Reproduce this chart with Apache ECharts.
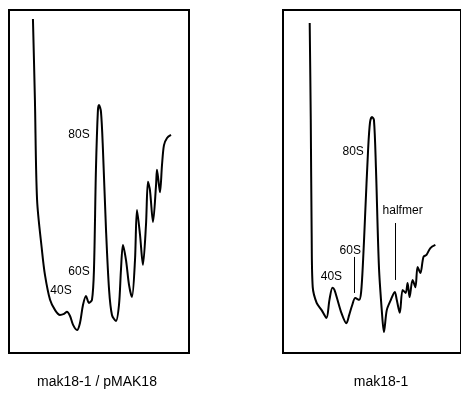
<!DOCTYPE html>
<html>
<head>
<meta charset="utf-8">
<script src="https://cdn.jsdelivr.net/npm/echarts@6/dist/echarts.min.js"></script>
<style>html,body{margin:0;padding:0;background:#fff}#c{width:461px;height:396px}</style>
</head>
<body>
<div id="c"></div>
<script>
// Panel 1: mak18-1 / pMAK18  (fraction position, absorbance)
var leftX = [13.3,14.4,15.6,18.3,20.0,22.8,25.6,28.3,30.6,32.2,33.9,35.6,37.8,39.4,41.1,42.8,44.4,46.1,47.2,48.3,49.4,50.0,51.1,52.2,53.9,55.6,57.2,59.4,61.1,62.2,63.3,65.0,66.7,68.3,70.0,71.1,72.8,74.4,76.1,77.2,78.3,80.0,81.7,82.2,83.3,83.9,85.0,86.1,87.8,90.0];
var leftY = [97.4,73.8,44.6,30.0,22.7,15.5,12.5,11.1,11.4,12.0,10.8,8.2,6.7,8.7,14.0,16.6,14.6,15.5,24.2,53.4,70.8,72.3,70.3,59.2,35.9,18.4,11.1,9.3,14.0,24.2,31.5,27.1,19.8,16.3,27.1,41.7,34.4,25.7,37.3,49.9,47.5,38.2,49.0,53.4,49.0,46.9,54.8,60.6,62.7,63.6];
// Panel 2: mak18-1
var rightX = [15.0,15.6,16.1,16.7,18.9,21.7,24.4,26.1,27.8,28.9,30.6,32.8,35.6,37.2,38.9,40.6,42.8,43.9,45.0,46.1,47.8,48.9,50.0,51.1,52.2,53.9,55.6,56.7,58.3,60.6,62.8,63.9,65.6,67.2,68.9,70.0,71.1,72.8,74.4,75.6,77.2,78.9,80.6,82.8,85.6];
var rightY = [96.2,67.9,35.0,19.2,14.6,12.5,10.2,15.5,19.0,18.4,15.5,11.7,8.7,11.1,14.0,16.0,15.5,17.8,27.1,39.7,59.2,67.3,68.8,67.9,54.2,25.1,11.7,6.1,12.5,15.5,17.8,15.5,11.7,18.4,17.5,20.4,16.3,21.3,19.2,25.1,23.3,28.0,28.6,30.6,31.5];
// Peak labels [name, x, y]
var leftLabels = [['80S',38.9,63.6],['60S',38.9,23.6],['40S',28.9,18.1]];
var rightLabels = [['80S',39.4,58.6],['halfmer',67.2,41.4],['60S',37.8,29.7],['40S',27.2,22.2]];
// Marker ticks [x, yFrom, yTo]
var rightTicks = [[40.0,17.5,28.0],[62.8,21.3,37.9]];
var panelTitles = ['mak18-1 / pMAK18','mak18-1'];

function zip(xs, ys){ return xs.map(function(x,i){ return [x, ys[i]]; }); }
var font = 'Liberation Sans, Arial, sans-serif';
function mp(list){
  return {
    symbol:'circle', symbolSize:1, silent:true, animation:false,
    itemStyle:{color:'rgba(0,0,0,0)'},
    label:{show:true, position:'inside', formatter:'{b}', color:'#000', fontFamily:font, fontSize:12},
    data: list.map(function(l){ return {name:l[0], coord:[l[1], l[2]]}; })
  };
}
var chart = echarts.init(document.getElementById('c'), null, {renderer:'canvas'});
chart.setOption({
  animation:false,
  title:[
    {text:panelTitles[0], left:92, top:370, textAlign:'center', textStyle:{fontFamily:font, fontSize:14, fontWeight:'normal', color:'#000'}},
    {text:panelTitles[1], left:376, top:370, textAlign:'center', textStyle:{fontFamily:font, fontSize:14, fontWeight:'normal', color:'#000'}}
  ],
  grid:[
    {left:9, top:10, width:180, height:343, show:true, borderColor:'#000', borderWidth:2, backgroundColor:'transparent'},
    {left:283, top:10, width:180, height:343, show:true, borderColor:'#000', borderWidth:2, backgroundColor:'transparent'}
  ],
  xAxis:[
    {type:'value', gridIndex:0, min:0, max:100, show:false},
    {type:'value', gridIndex:1, min:0, max:100, show:false}
  ],
  yAxis:[
    {type:'value', gridIndex:0, min:0, max:100, show:false},
    {type:'value', gridIndex:1, min:0, max:100, show:false}
  ],
  series:[
    {type:'line', xAxisIndex:0, yAxisIndex:0, data:zip(leftX,leftY), smooth:0.3, showSymbol:false, silent:true,
     lineStyle:{color:'#000', width:2}, markPoint:mp(leftLabels)},
    {type:'line', xAxisIndex:1, yAxisIndex:1, data:zip(rightX,rightY), smooth:0.3, showSymbol:false, silent:true,
     lineStyle:{color:'#000', width:2}, markPoint:mp(rightLabels),
     markLine:{symbol:'none', silent:true, animation:false, label:{show:false},
       lineStyle:{color:'#000', width:1, type:'solid'},
       data: rightTicks.map(function(t){ return [{coord:[t[0],t[1]]},{coord:[t[0],t[2]]}]; })}}
  ]
});
</script>
</body>
</html>
